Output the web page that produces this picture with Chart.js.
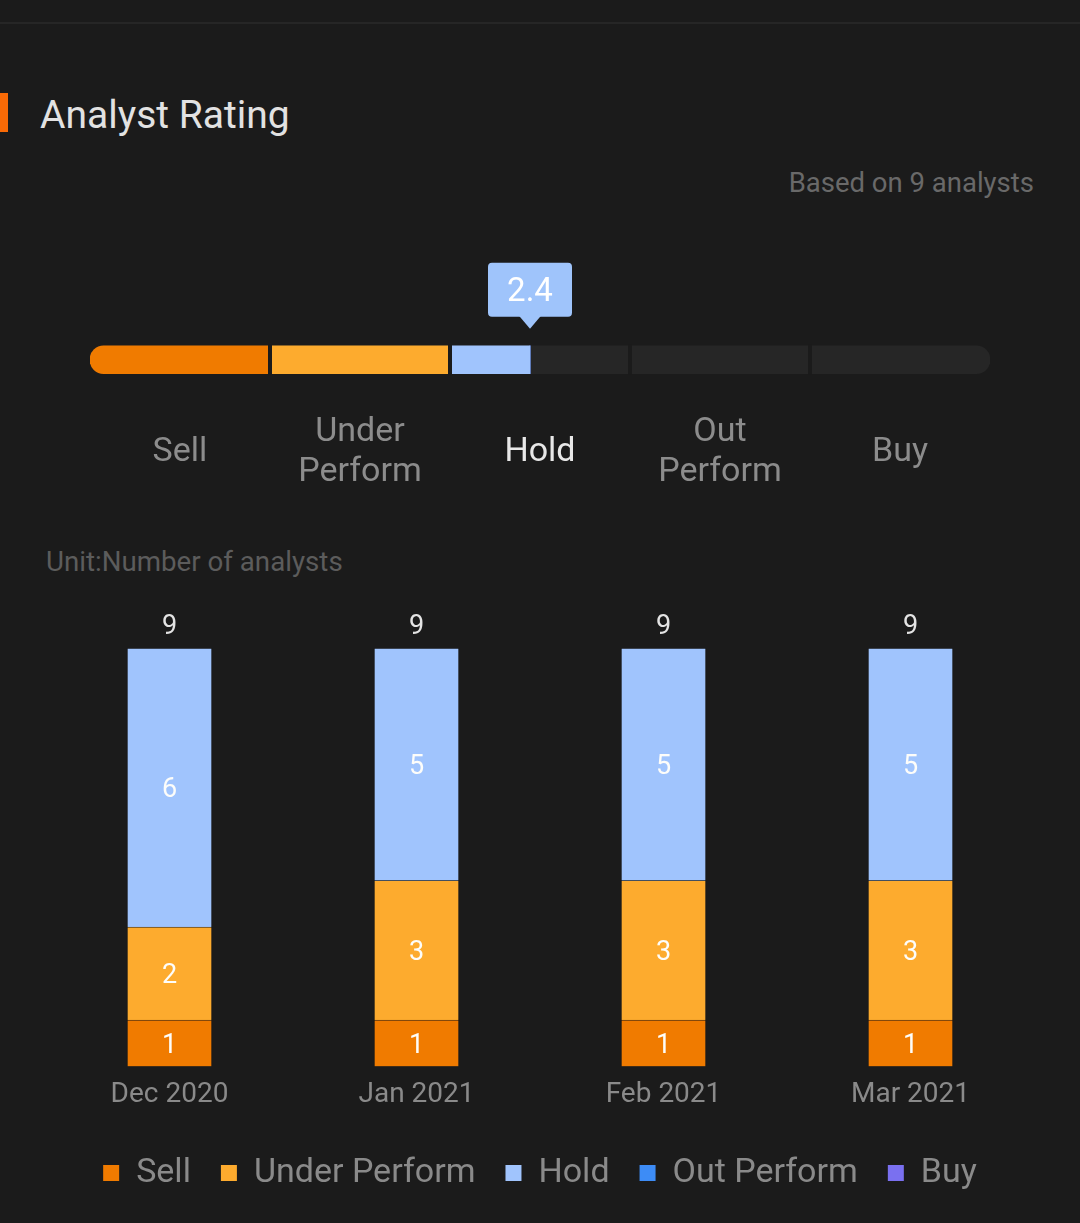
<!DOCTYPE html>
<html>
<head>
<meta charset="utf-8">
<script src="https://cdn.jsdelivr.net/npm/chart.js@4.4.1/dist/chart.umd.min.js"></script>
<style>
  html, body { margin: 0; padding: 0; background: #1b1b1b; }
  body { width: 1080px; height: 1223px; position: relative; overflow: hidden; font-family: Roboto, sans-serif; }
  .topline { position: absolute; left: 0; top: 22px; width: 1080px; height: 2px; background: #262626; }
  .accent { position: absolute; left: 0; top: 93px; width: 8px; height: 39px; background: #f96a06; }
  .title { position: absolute; left: 40px; top: 96px; font-size: 39px; line-height: 39px; color: #e2e2e2; }
  .based { position: absolute; right: 46px; top: 169px; font-size: 27.5px; line-height: 28px; color: #696969; }
  .unit { position: absolute; left: 46px; top: 548px; font-size: 27.7px; line-height: 28px; color: #5c5c5c; }
  #gauge { position: absolute; left: 0; top: 202px; }
  #bars { position: absolute; left: 0; top: 580px; }
</style>
</head>
<body>
<div class="topline"></div>
<div class="accent"></div>
<div class="title">Analyst Rating</div>
<div class="based" id="based"></div>
<div class="unit">Unit:Number of analysts</div>
<canvas id="gauge" width="1080" height="330"></canvas>
<canvas id="bars" width="1080" height="643"></canvas>

<script>
const ratingNames = ['Sell', 'Under Perform', 'Hold', 'Out Perform', 'Buy'];
const ratingColors = ['#f07b00', '#fdab2e', '#a0c4fd', '#3d8cf6', '#7a70f0'];

const months = ['Dec 2020', 'Jan 2021', 'Feb 2021', 'Mar 2021'];
const sellCounts = [1, 1, 1, 1];
const underPerformCounts = [2, 3, 3, 3];
const holdCounts = [6, 5, 5, 5];
const outPerformCounts = [0, 0, 0, 0];
const buyCounts = [0, 0, 0, 0];

const seriesCounts = [sellCounts, underPerformCounts, holdCounts, outPerformCounts, buyCounts];
const totals = months.map((m, i) => seriesCounts.reduce((s, c) => s + c[i], 0));

// rating of the latest month: average on a 1..5 scale
const last = months.length - 1;
const analystCount = totals[last];
const ratingScore = seriesCounts.reduce((s, c, i) => s + c[last] * (i + 1), 0) / analystCount;
const activeIndex = Math.min(ratingNames.length - 1, Math.floor(ratingScore));

document.getElementById('based').textContent = 'Based on ' + analystCount + ' analysts';

Chart.defaults.font.family = 'Roboto';

const bgColor = '#1b1b1b';
const gaugeThickness = 28;

function gaugeRadius(i) {
  const r = gaugeThickness / 2;
  if (i === 0) return { topLeft: r, bottomLeft: r, topRight: 0, bottomRight: 0 };
  if (i === ratingNames.length - 1) return { topLeft: 0, bottomLeft: 0, topRight: r, bottomRight: r };
  return 0;
}

const fillSets = ratingNames.map((name, i) => ({
  label: name,
  stack: 'fill',
  grouped: false,
  data: [Math.min(1, Math.max(0, ratingScore - i))],
  backgroundColor: ratingColors[i],
  borderWidth: 0,
  borderSkipped: false,
  borderRadius: gaugeRadius(i),
  barThickness: gaugeThickness
}));

const trackSets = ratingNames.map((name, i) => ({
  label: name + ' track',
  stack: 'track',
  grouped: false,
  data: [1],
  backgroundColor: '#262626',
  borderWidth: 0,
  borderSkipped: false,
  borderRadius: gaugeRadius(i),
  barThickness: gaugeThickness
}));

const gaugeOverlay = {
  id: 'gaugeOverlay',
  afterDatasetsDraw(chart) {
    const { ctx } = chart;
    const x = chart.scales.x;
    const bar = chart.getDatasetMeta(ratingNames.length).data[0];
    const barTop = bar.y - gaugeThickness / 2;

    // gaps between the segments
    ctx.save();
    ctx.fillStyle = bgColor;
    for (let i = 1; i < ratingNames.length; i++) {
      const px = x.getPixelForValue(i);
      ctx.fillRect(px - 2, barTop - 1, 4, gaugeThickness + 2);
    }

    // score marker
    const px = x.getPixelForValue(ratingScore);
    const boxW = 84, boxH = 54;
    const boxBottom = barTop - 29;
    ctx.fillStyle = '#9fc4fb';
    ctx.beginPath();
    ctx.roundRect(px - boxW / 2, boxBottom - boxH, boxW, boxH, 4);
    ctx.fill();
    ctx.beginPath();
    ctx.moveTo(px - 11, boxBottom - 1);
    ctx.lineTo(px + 11, boxBottom - 1);
    ctx.lineTo(px, boxBottom + 12);
    ctx.closePath();
    ctx.fill();
    ctx.fillStyle = '#ffffff';
    ctx.font = '33px Roboto';
    ctx.textAlign = 'center';
    ctx.textBaseline = 'middle';
    ctx.fillText(ratingScore.toFixed(1), px, boxBottom - boxH / 2 + 3);
    ctx.restore();
  }
};

new Chart(document.getElementById('gauge'), {
  type: 'bar',
  data: {
    labels: [''],
    datasets: fillSets.concat(trackSets)
  },
  options: {
    indexAxis: 'y',
    responsive: false,
    animation: false,
    events: [],
    layout: { padding: { left: 90, right: 90, top: 106, bottom: 17 } },
    plugins: {
      legend: { display: false },
      tooltip: { enabled: false }
    },
    scales: {
      x: {
        type: 'linear',
        stacked: true,
        min: 0,
        max: ratingNames.length,
        grid: { display: false, drawTicks: false },
        border: { display: false },
        afterBuildTicks: (scale) => {
          scale.ticks = ratingNames.map((n, i) => ({ value: i + 0.5 }));
        },
        ticks: {
          autoSkip: false,
          maxRotation: 0,
          padding: 21,
          crossAlign: 'center',
          font: { size: 34, lineHeight: 1.18 },
          color: (c) => c.index === activeIndex ? '#e8e8e8' : '#8c8c8c',
          callback: (v, i) => ratingNames[i].split(' ')
        }
      },
      y: { type: 'category', display: false, stacked: true }
    }
  },
  plugins: [gaugeOverlay]
});

const barLabels = {
  id: 'barLabels',
  afterDatasetsDraw(chart) {
    const { ctx } = chart;
    ctx.save();
    ctx.textAlign = 'center';
    ctx.textBaseline = 'middle';
    ctx.font = '27px Roboto';
    chart.data.datasets.forEach((ds, di) => {
      chart.getDatasetMeta(di).data.forEach((bar, i) => {
        if (!ds.data[i]) return;
        ctx.fillStyle = '#fdfdfa';
        ctx.fillText(String(ds.data[i]), bar.x, (bar.y + bar.base) / 2 + 3);
      });
    });
    const y = chart.scales.y;
    const meta = chart.getDatasetMeta(0);
    totals.forEach((t, i) => {
      ctx.fillStyle = '#e4e4e4';
      ctx.fillText(String(t), meta.data[i].x, y.getPixelForValue(t) - 21);
    });
    ctx.restore();
  }
};

new Chart(document.getElementById('bars'), {
  type: 'bar',
  data: {
    labels: months,
    datasets: ratingNames.map((name, i) => ({
      label: name,
      data: seriesCounts[i],
      backgroundColor: ratingColors[i],
      borderColor: 'rgba(0,0,0,0.12)',
      borderWidth: 1,
      barThickness: 85
    }))
  },
  options: {
    responsive: false,
    animation: false,
    events: [],
    layout: { padding: { left: 46, right: 46, top: 68, bottom: 23 } },
    plugins: {
      tooltip: { enabled: false },
      legend: {
        position: 'bottom',
        labels: {
          boxWidth: 16,
          boxHeight: 16,
          padding: 30,
          color: '#8a8a8a',
          font: { size: 34 },
          generateLabels: (chart) => chart.data.datasets.map((ds, i) => ({
            text: ds.label,
            fillStyle: ds.backgroundColor,
            strokeStyle: ds.backgroundColor,
            lineWidth: 0,
            hidden: false,
            fontColor: '#8a8a8a',
            datasetIndex: i
          }))
        }
      }
    },
    scales: {
      x: {
        stacked: true,
        grid: { display: false, drawTicks: false },
        border: { display: false },
        ticks: { color: '#8a8a8a', font: { size: 28 }, padding: 12 },
        afterFit: (scale) => { scale.height += 2; }
      },
      y: {
        stacked: true,
        display: false,
        min: 0,
        max: Math.max(...totals)
      }
    }
  },
  plugins: [barLabels]
});
</script>
</body>
</html>
